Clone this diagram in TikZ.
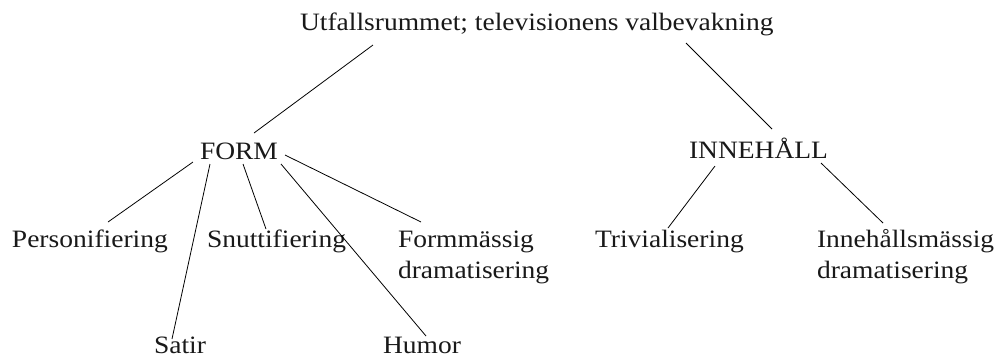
\documentclass[tikz,border=0pt]{standalone}
\usepackage{fontspec}
\setmainfont{Liberation Serif}[FakeStretch=1.1]
\begin{document}
\begin{tikzpicture}[x=1pt,y=-1pt,
  lbl/.style={anchor=base west,inner sep=0pt,outer sep=0pt,text=black!90,font=\fontsize{25}{31}\selectfont},
  conn/.style={draw=black,line width=0.8pt}]
\useasboundingbox (0,0) rectangle (994,360);
\node[lbl] (root) at (300,30) {Utfallsrummet; televisionens valbevakning};
\node[lbl] (form) at (200,159) {FORM};
\node[lbl] (inn) at (689,158) {INNEHÅLL};
\node[lbl] (pers) at (12,247) {Personifiering};
\node[lbl] (snutt) at (207,247) {Snuttifiering};
\node[lbl] (formm) at (398,247) {\begin{tabular}[t]{@{}l@{}}Formmässig\\dramatisering\end{tabular}};
\node[lbl] (satir) at (154,353) {Satir};
\node[lbl] (humor) at (383,353) {Humor};
\node[lbl] (triv) at (595,247) {Trivialisering};
\node[lbl] (innm) at (817,247) {\begin{tabular}[t]{@{}l@{}}Innehållsmässig\\dramatisering\end{tabular}};
\draw[conn] ([shift={(73,15)}]root.base west) -- ([shift={(54,-26)}]form.base west);
\draw[conn] ([shift={(386,13)}]root.base west) -- ([shift={(83,-29)}]inn.base west);
\draw[conn] ([shift={(-7,3)}]form.base west) -- ([shift={(96,-25)}]pers.base west);
\draw[conn] ([shift={(10,5)}]form.base west) -- ([shift={(18,-14)}]satir.base west);
\draw[conn] ([shift={(43,5)}]form.base west) -- ([shift={(59,-18)}]snutt.base west);
\draw[conn] ([shift={(81,5)}]form.base west) -- ([shift={(43,-17)}]humor.base west);
\draw[conn] ([shift={(85,-4)}]form.base west) -- ([shift={(23,-25)}]formm.base west);
\draw[conn] ([shift={(26,8)}]inn.base west) -- ([shift={(73,-19)}]triv.base west);
\draw[conn] ([shift={(132,5)}]inn.base west) -- ([shift={(66,-24)}]innm.base west);
\end{tikzpicture}
\end{document}
